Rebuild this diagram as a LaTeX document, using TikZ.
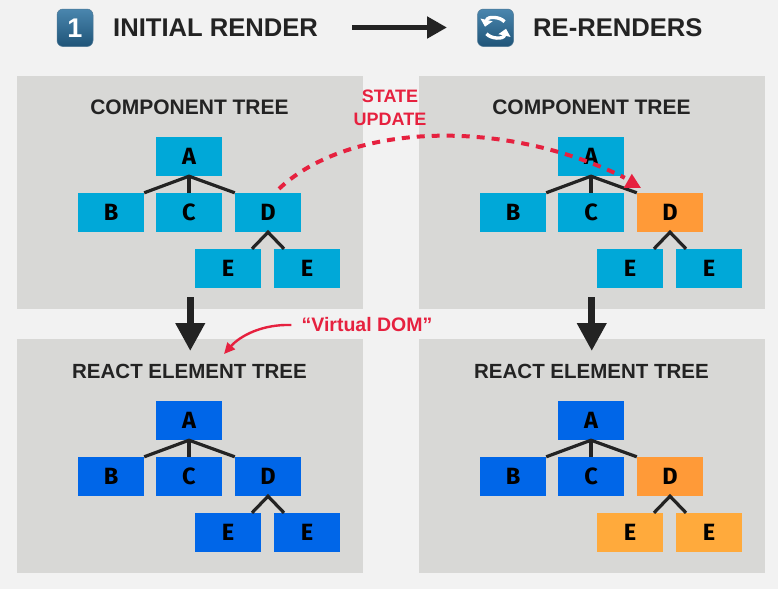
\documentclass[tikz,border=0pt]{standalone}
\usepackage{fontspec}
\setmainfont{Liberation Sans}
\newfontfamily\boxfont{Fira Sans}[BoldFont={Fira Sans Bold}]
\usetikzlibrary{arrows.meta,calc}
\definecolor{pagebg}{HTML}{F2F2F2}
\definecolor{panelbg}{HTML}{D8D8D6}
\definecolor{cyanbox}{HTML}{00A8D8}
\definecolor{bluebox}{HTML}{0066E8}
\definecolor{orangebox}{HTML}{FF9A38}
\definecolor{lightorange}{HTML}{FFAA3C}
\definecolor{inkdark}{HTML}{232323}
\definecolor{redink}{HTML}{E6213F}
\definecolor{capA}{HTML}{4A86AE}
\definecolor{capB}{HTML}{1F5478}
\tikzset{
 panel/.style={fill=panelbg,draw=none,minimum width=345.5pt,minimum height=233.5pt,inner sep=0},
 tbox/.style={minimum width=66pt,minimum height=39pt,inner sep=0,draw=none,text=black,font=\boxfont\fontsize{23.5}{23.5}\selectfont\bfseries},
 cy/.style={tbox,fill=cyanbox},
 bl/.style={tbox,fill=bluebox},
 or/.style={tbox,fill=orangebox},
 lo/.style={tbox,fill=lightorange},
 link/.style={draw=inkdark,line width=3.2pt,line cap=butt},
 bigarrow/.style={draw=inkdark,line width=7pt,-{Triangle[length=28pt,width=28pt]}},
 heading/.style={text=inkdark,font=\fontsize{25.6}{26}\selectfont\bfseries,inner sep=0},
 ptitle/.style={text=inkdark,font=\fontsize{21}{21}\selectfont\bfseries,inner sep=0},
 rtitle/.style={text=inkdark,font=\fontsize{20.5}{20.5}\selectfont\bfseries,inner sep=0},
 redtext/.style={text=redink,font=\fontsize{18}{23}\selectfont\bfseries,inner sep=0,align=center},
 keycap/.style={rounded corners=6pt,top color=capA,bottom color=capB,draw=capB!80!white,line width=.5pt,minimum width=36pt,minimum height=37.5pt,inner sep=0},
 refresh/.style={draw=white,line width=3.4pt,-{Triangle[length=7pt,width=12pt]}},
}
\begin{document}
\begin{tikzpicture}[x=1pt,y=-1pt]
\useasboundingbox (0,0) rectangle (778,589);
\fill[pagebg] (0,0) rectangle (778,589);
% panels
\node[panel] (p1) at (189.75,192.5) {};
\node[panel] (p2) at (591.75,192.5) {};
\node[panel] (p3) at (189.75,456) {};
\node[panel] (p4) at (591.75,456) {};
% headings
\node[keycap,text=white,font=\fontsize{27}{27}\selectfont\bfseries] (k1) at (75,27.75) {1};
\node[heading,anchor=west] (h1) at (113,27.5) {INITIAL RENDER};
\node[keycap] (k2) at (495.5,27.75) {};
\node[heading,anchor=west] (h2) at (533,27.5) {RE-RENDERS};
\draw[draw=inkdark,line width=5pt,-{Triangle[length=20pt,width=21pt]}] (h1.east -| 352,0) -- (h2.west -| 447,0);
\begin{scope}[shift={(k2.center)}]
\draw[refresh] (9,-6) .. controls (5,-11) and (-8,-12) .. (-10.5,-1);
\draw[refresh] (-9,6) .. controls (-5,11) and (8,12) .. (10.5,1);
\end{scope}
% titles
\node[ptitle] (t1) at (189.5,107) {COMPONENT TREE};
\node[ptitle] (t2) at (591.5,107) {COMPONENT TREE};
\node[rtitle] (t3) at (189.5,371) {REACT ELEMENT TREE};
\node[rtitle] (t4) at (591.5,371) {REACT ELEMENT TREE};
% tree 1
\node[cy] (a1) at (189,156.5) {A};
\node[cy] (b1) at (111,212.5) {B};
\node[cy] (c1) at (189,212.5) {C};
\node[cy] (d1) at (268,212.5) {D};
\node[cy] (e1) at (228,268.5) {E};
\node[cy] (f1) at (307,268.5) {E};
% tree 2
\node[cy] (a2) at (591,156.5) {A};
\node[cy] (b2) at (513,212.5) {B};
\node[cy] (c2) at (591,212.5) {C};
\node[or] (d2) at (670,212.5) {D};
\node[cy] (e2) at (630,268.5) {E};
\node[cy] (f2) at (709,268.5) {E};
% tree 3
\node[bl] (a3) at (189,420.5) {A};
\node[bl] (b3) at (111,476.5) {B};
\node[bl] (c3) at (189,476.5) {C};
\node[bl] (d3) at (268,476.5) {D};
\node[bl] (e3) at (228,532.5) {E};
\node[bl] (f3) at (307,532.5) {E};
% tree 4
\node[bl] (a4) at (591,420.5) {A};
\node[bl] (b4) at (513,476.5) {B};
\node[bl] (c4) at (591,476.5) {C};
\node[or] (d4) at (670,476.5) {D};
\node[lo] (e4) at (630,532.5) {E};
\node[lo] (f4) at (709,532.5) {E};
% links
\foreach \n in {1,2,3,4}{
 \draw[link] (b\n.north east) -- (a\n.south) -- (d\n.north west);
 \draw[link] (a\n.south) -- (c\n.north);
 \draw[link] ($(e\n.north)+(24,0)$) -- (d\n.south) -- ($(f\n.north)+(-23,0)$);
}
% big arrows
\draw[bigarrow] ($(p1.south)+(0.5,-12)$) -- ($(p3.north)+(0.5,12)$);
\draw[bigarrow] ($(p2.south)+(0,-12)$) -- ($(p4.north)+(0,12)$);
% red
\node[redtext] (su) at (390,107.5) {STATE\\UPDATE};
\node[text=redink,font=\fontsize{19.5}{20}\selectfont\bfseries,inner sep=0] (vd) at (367,325) {“Virtual DOM”};
\draw[redink,line width=4pt,dash pattern=on 8pt off 7pt] ($(d1.north)+(11,-4)$) .. controls (350,122) and (505,118) .. ($(d2.north west)+(-12,-15)$);
\fill[redink] ($(d2.north west)+(-13,-5)$) -- ($(d2.north west)+(-5,-19)$) -- ($(d2.north west)+(4,-5)$) -- cycle;
\draw[redink,line width=2.4pt,-{Triangle[length=11pt,width=10pt]}] (vd.west) ++(-10,0) .. controls (262,324) and (240,336) .. (224,354);
\end{tikzpicture}
\end{document}
